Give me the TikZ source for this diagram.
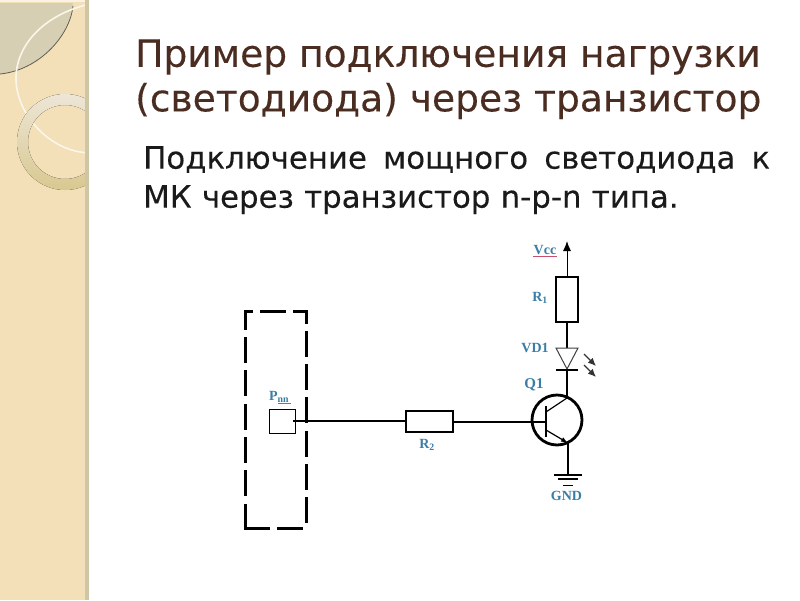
\documentclass[tikz,border=0pt]{standalone}
\usepackage{fontspec}
\setmainfont{DejaVu Sans}
\newfontfamily\lblfont{Liberation Serif}
\newfontfamily\headfont[FakeBold=0.2]{DejaVu Sans}
\usetikzlibrary{arrows.meta}
\definecolor{sand}{HTML}{F3E0B9}
\definecolor{edgeband}{HTML}{CFC6A6}
\definecolor{leaf}{HTML}{D6CFB4}
\definecolor{titlebrown}{HTML}{4A2C20}
\definecolor{bodyink}{HTML}{1A1A1A}
\definecolor{lblblue}{HTML}{3A7DA6}
\definecolor{squig}{HTML}{C8506A}
\definecolor{ringtop}{HTML}{EDE6D6}
\definecolor{ringbot}{HTML}{D8C890}
\tikzset{
  x=1pt,y=-1pt,
  titletext/.style={font=\headfont\fontsize{37.6}{44}\selectfont,text=titlebrown,anchor=west,inner sep=0},
  bodytext/.style={font=\headfont\fontsize{30.8}{39}\selectfont,text=bodyink,anchor=north west,inner sep=0,text width=627pt,align=left},
  lbl/.style={font=\lblfont\bfseries\fontsize{14}{14}\selectfont,text=lblblue,inner sep=0},
  res/.style={draw=black,line width=2.2pt,fill=white,inner sep=0,rectangle},
  thin wire/.style={line width=1.05pt,draw=black},
  thick wire/.style={line width=2pt,draw=black},
  mcu side/.style={line width=3pt,line cap=rect},
}
\begin{document}
\begin{tikzpicture}
\useasboundingbox (0,0) rectangle (800,600);
\fill[white] (0,0) rectangle (800,600);
% decorative strip
\begin{scope}
\clip (0,0) rectangle (85,600);
\fill[sand] (0,0) rectangle (88,600);
\fill[leaf] (0,3) -- (73,3) .. controls (70,35) and (40,70) .. (0,74) -- cycle;
\draw[black!55!leaf,line width=0.8pt] (73,6) .. controls (70,35) and (40,70) .. (0,74);
\draw[white!70!sand,line width=1.6pt] (90,4) .. controls (45,14) and (15,45) .. (16,80) .. controls (17,115) and (50,152) .. (90,153);
\fill[even odd rule,top color=ringtop,bottom color=ringbot] (65,142) circle (48) (65,142) circle (37);
\end{scope}
\fill[edgeband] (85,0) rectangle (88.5,600);
\fill[white!60!sand] (0,0) rectangle (85,2);
% heading
\node[titletext] (title1) at (135,57) {Пример подключения нагрузки};
\node[titletext] (title2) at (135,101) {(светодиода) через транзистор};
\node[bodytext] (body) at (143,146) {\hbox to 627pt{Подключение\hfill мощного\hfill светодиода\hfill к}\\МК через транзистор n-p-n типа.};
% MCU block
\coordinate (boxtl) at (245,311);
\coordinate (boxtr) at (306,311);
\coordinate (boxbl) at (245,528);
\coordinate (boxbr) at (306,528);
\draw[mcu side,dash pattern=on 23pt off 10.3pt] (boxbl) -- (boxtl);
\draw[mcu side,dash pattern=on 23pt off 10.3pt,dash phase=17] (boxtl) -- (boxtr);
\draw[mcu side,dash pattern=on 23pt off 10.3pt,dash phase=12] (boxtr) -- (boxbr);
\draw[mcu side,dash pattern=on 23pt off 10.3pt] (boxbl) -- (boxbr);
\node[draw=black,line width=1pt,fill=white,minimum width=26pt,minimum height=24pt,inner sep=0] (port) at (282,421) {};
\node[lbl] (plabel) at (279,397) {P\textsubscript{nn}};
\coordinate (psl) at (278,403); \coordinate (psr) at (291,403);
\draw[squig,line width=.7pt] (psl) -- (psr);
% resistors
\node[res,minimum width=47pt,minimum height=21pt] (r2) at (429.5,421.5) {};
\node[lbl] (r2label) at (427,445) {R\textsubscript{2}};
\node[res,minimum width=22pt,minimum height=45pt] (r1) at (567,299.5) {};
\node[lbl] (r1label) at (540,298) {R\textsubscript{1}};
\node[lbl] (vcclabel) at (545,250) {Vcc};
\coordinate (vsl) at (533,256); \coordinate (vsr) at (557,256);
\draw[squig,line width=.7pt] (vsl) -- (vsr);
% supply
\coordinate (vcc) at (567,241);
\draw[line width=1pt,-{Latex[length=10pt,width=8pt]}] (r1.north) -- (vcc);
% LED
\coordinate (ledtop) at (567,348);
\coordinate (ledl) at (556,348);
\coordinate (ledr) at (578,348);
\coordinate (ledtip) at (567,369);
\coordinate (barl) at (556,370);
\coordinate (barr) at (578,370);
\draw[thick wire] (r1.south) -- (ledtop);
\draw[line width=1pt,draw=black!75] (ledl) -- (ledr) -- (ledtip) -- cycle;
\draw[thick wire] (barl) -- (barr);
\node[lbl] (vd1label) at (535,348) {VD1};
\coordinate (a1s) at (584,354); \coordinate (a1e) at (596,366);
\coordinate (a2s) at (584,365); \coordinate (a2e) at (596,377);
\draw[line width=1.3pt,draw=black!80,-{Latex[length=8pt,width=7pt]}] (a1s) -- (a1e);
\draw[line width=1.3pt,draw=black!80,-{Latex[length=8pt,width=7pt]}] (a2s) -- (a2e);
% transistor
\node[draw=black,line width=2.8pt,circle,minimum size=50pt,inner sep=0,fill=white] (q1) at (557,420) {};
\node[lbl,font=\lblfont\bfseries\fontsize{15}{15}\selectfont] (q1label) at (534,385) {Q1};
\coordinate (basetop) at (546,406);
\coordinate (basebot) at (546,437);
\coordinate (basemid) at (546,422);
\coordinate (coll) at (567,398);
\coordinate (emit) at (568,443);
\coordinate (collin) at (546,412);
\coordinate (emitin) at (546,430);
\draw[thick wire] (basetop) -- (basebot);
\draw[line width=1.2pt] (collin) -- (coll);
\draw[line width=1.2pt,-{Latex[length=7pt,width=5pt]}] (emitin) -- (emit);
\draw[thick wire] (ledtop |- barl) -- (coll);
% wiring
\coordinate (portout) at (293,421);
\draw[thin wire] (portout) -- (r2.west |- portout);
\draw[thin wire] (r2.east |- basemid) -- (basemid);
% ground
\coordinate (gnd) at (568,475);
\draw[thin wire] (emit) -- (gnd);
\coordinate (g1l) at (554,475); \coordinate (g1r) at (582,475);
\coordinate (g2l) at (558,479); \coordinate (g2r) at (578,479);
\coordinate (g3l) at (563,485); \coordinate (g3r) at (573,485);
\draw[line width=1.4pt] (g1l) -- (g1r);
\draw[line width=1.2pt] (g2l) -- (g2r);
\draw[line width=1pt] (g3l) -- (g3r);
\node[lbl] (gndlabel) at (566.5,496) {GND};
\end{tikzpicture}
\end{document}
